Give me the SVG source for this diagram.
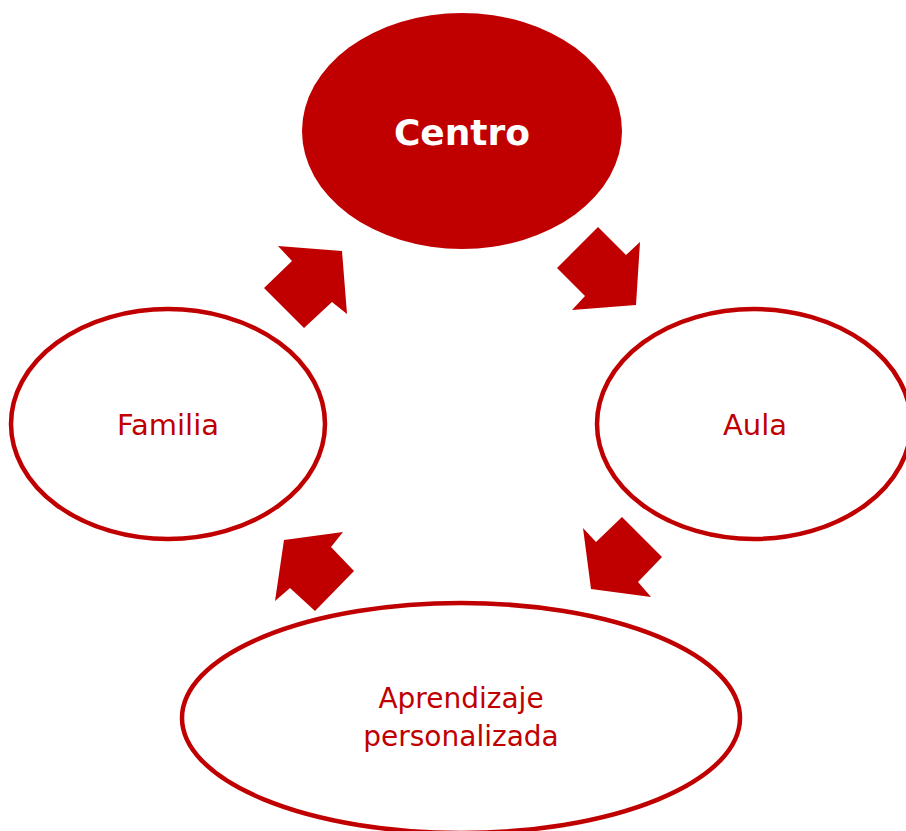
<svg xmlns="http://www.w3.org/2000/svg" width="906" height="831" viewBox="0 0 906 831">
<style>
.node{fill:#fff;stroke:#C00000;stroke-width:4.5}
.lbl{font-family:"DejaVu Sans","Liberation Sans",sans-serif;font-size:29px;fill:#C00000;text-anchor:middle}
.arrow{fill:#C00000}
</style>
<rect width="906" height="831" fill="#fff"/>
<g id="centro">
<ellipse cx="462" cy="131" rx="160" ry="118" fill="#C00000"/>
<text x="462" y="145" style="font-family:'DejaVu Sans','Liberation Sans',sans-serif;font-size:36px;font-weight:bold;fill:#fff;text-anchor:middle">Centro</text>
</g>
<g id="familia">
<ellipse class="node" cx="168" cy="424" rx="157" ry="115"/>
<text class="lbl" x="168" y="435">Familia</text>
</g>
<g id="aula">
<ellipse class="node" cx="754" cy="424" rx="157" ry="115"/>
<text class="lbl" x="755" y="435">Aula</text>
</g>
<g id="aprendizaje">
<ellipse class="node" cx="461" cy="718" rx="279" ry="115"/>
<text class="lbl" x="461" y="708" style="font-size:28px">Aprendizaje</text>
<text class="lbl" x="461" y="746" style="font-size:28px">personalizada</text>
</g>
<g id="connectors">
<polygon class="arrow" points="598,227 626,255 640,242 636,305 572,310 585,296 557,268"/>
<polygon class="arrow" points="622,517 662,557 638,582 651,597 591,589 583,528 596,542"/>
<polygon class="arrow" points="284,540 343,532 331,547 354,571 315,611 290,588 275,601"/>
<polygon class="arrow" points="278,246 342,251 347,314 332,302 304,328 264,288 292,261"/>
</g>
</svg>
